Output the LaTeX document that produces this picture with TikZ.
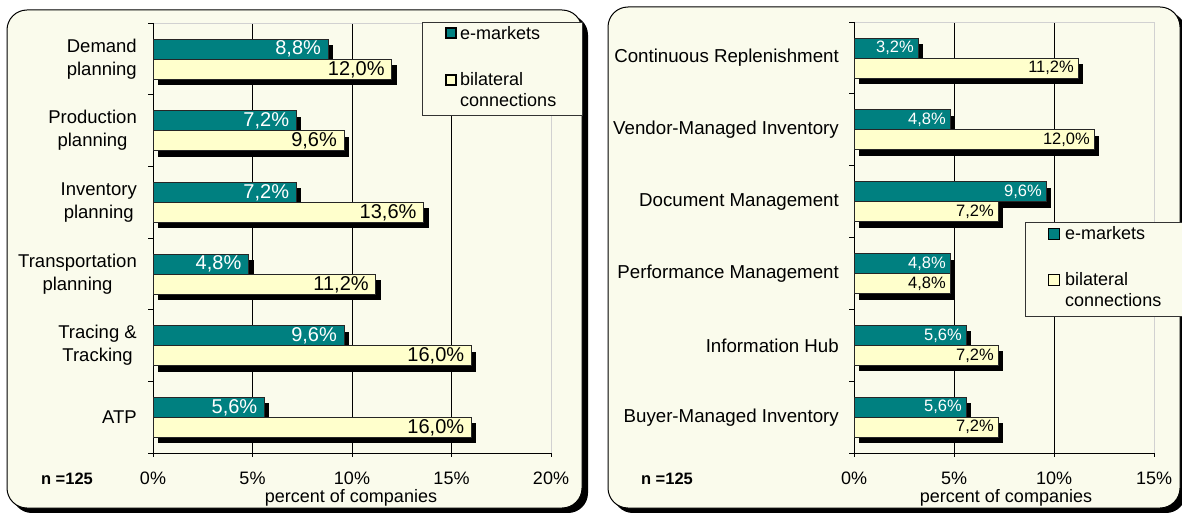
\documentclass[tikz,border=0pt]{standalone}
\usepackage{fontspec}
\setmainfont{Liberation Sans}
\definecolor{bgc}{RGB}{250,251,236}
\definecolor{tealc}{RGB}{0,128,128}
\definecolor{creamc}{RGB}{255,255,204}
\newcommand{\myfs}[2]{\fontsize{#1}{#2}\selectfont}
\begin{document}
\begin{tikzpicture}[x=1pt,y=-1pt,
  framebox/.style={draw=black, line width=1pt, fill=bgc, rounded corners=20pt},
  frameshadow/.style={fill=black, rounded corners=20pt},
  tealbar/.style={fill=tealc, draw=black!85, line width=0.9pt},
  creambar/.style={fill=creamc, draw=black!85, line width=0.9pt},
  barshadow/.style={fill=black},
  gridline/.style={draw=black, line width=0.6pt},
  gridlight/.style={draw=black!18, line width=0.8pt},
  axisline/.style={draw=black, line width=0.8pt},
  lvalw/.style={inner sep=0pt, anchor=east, text=white, font=\myfs{20}{20}},
  lvalb/.style={inner sep=0pt, anchor=east, text=black, font=\myfs{20}{20}},
  rvalw/.style={inner sep=0pt, anchor=east, text=white, font=\myfs{16.5}{16.5}},
  rvalb/.style={inner sep=0pt, anchor=east, text=black, font=\myfs{16.5}{16.5}},
  catL/.style={inner sep=0pt, anchor=east, align=center, font=\myfs{18.5}{23}},
  catR/.style={inner sep=0pt, anchor=east, font=\myfs{18.7}{18.7}},
  ticklab/.style={inner sep=0pt, font=\myfs{18}{18}},
  nlab/.style={inner sep=0pt, font=\bfseries\myfs{16.5}{16.5}},
  legendbox/.style={draw=black!80, line width=0.8pt, fill=bgc},
  legteal/.style={fill=tealc, draw=black, line width=1.4pt},
  legcream/.style={fill=creamc, draw=black, line width=1.4pt},
  legtext/.style={inner sep=0pt, anchor=west, align=left, font=\myfs{18}{21}}
]
\useasboundingbox (0,0) rectangle (1182,513);
\fill[white] (0,0) rectangle (1182,513);

% ---------------- left panel ----------------
\fill[frameshadow] (12,15) rectangle (588,513);
\draw[framebox] (7,10) rectangle (582,508);

\foreach \p in {5,10,15} \draw[gridline] ({153+\p*19.9},23) -- ({153+\p*19.9},457);
\draw[gridlight] (153,23) -- (551,23) -- (551,453);
\draw[axisline] (153,23) -- (153,453);
\draw[axisline] (148,453) -- (551,453);
\foreach \k in {0,...,6} \draw[axisline] (148,{23+\k*71.667}) -- (153,{23+\k*71.667});
\foreach \p in {0,20} \draw[axisline] ({153+\p*19.9},453) -- ({153+\p*19.9},457);

\foreach \k/\a/\b/\la/\lb/\cat in {
  0/8.8/12.0/{8,8\%}/{12,0\%}/{Demand\\planning},
  1/7.2/9.6/{7,2\%}/{9,6\%}/{Production\\planning},
  2/7.2/13.6/{7,2\%}/{13,6\%}/{Inventory\\planning},
  3/4.8/11.2/{4,8\%}/{11,2\%}/{Transportation\\planning},
  4/9.6/16.0/{9,6\%}/{16,0\%}/{Tracing \&\\Tracking},
  5/5.6/16.0/{5,6\%}/{16,0\%}/{ATP}} {
  \pgfmathsetmacro\t{23+\k*71.667}
  \pgfmathsetmacro\ea{153+\a*19.9}
  \pgfmathsetmacro\eb{153+\b*19.9}
  \fill[barshadow] (158,\t+22) rectangle (\ea+5,\t+42);
  \draw[tealbar] (153,\t+16) rectangle (\ea,\t+36);
  \fill[barshadow] (158,\t+42) rectangle (\eb+5,\t+62);
  \draw[creambar] (153,\t+36) rectangle (\eb,\t+56);
  \node[lvalw] (la\k) at (\ea-7,\t+26) {\la};
  \node[lvalb] (lb\k) at (\eb-7,\t+46.5) {\lb};
  \node[catL] (lc\k) at (137,\t+36) {\cat};
}

\foreach \p in {0,5,10,15,20} \node[ticklab] (lt\p) at ({153+\p*19.9},478) {\p\%};
\node[ticklab] (lxl) at (351,497.5) {percent of companies};
\node[nlab] (ln) at (67,479) {n =125};

\draw[legendbox] (422,22) rectangle (582,115);
\draw[legteal] (446,28) rectangle (456,38);
\draw[legcream] (446,75) rectangle (456,85);
\node[legtext] (lle) at (460,33) {e-markets};
\node[legtext] (llb) at (460,90) {bilateral\\connections};

% ---------------- right panel ----------------
\fill[frameshadow] (613,12) rectangle (1186,513);
\draw[framebox] (608,7) rectangle (1180,508);

\foreach \p in {5,10} \draw[gridline] ({854+\p*20},22) -- ({854+\p*20},457);
\draw[gridlight] (854,22) -- (1154,22) -- (1154,453);
\draw[axisline] (854,22) -- (854,453);
\draw[axisline] (849,453) -- (1154,453);
\foreach \k in {0,...,6} \draw[axisline] (849,{22+\k*71.833}) -- (854,{22+\k*71.833});
\foreach \p in {0,15} \draw[axisline] ({854+\p*20},453) -- ({854+\p*20},457);

\foreach \k/\a/\b/\la/\lb/\cat in {
  0/3.2/11.2/{3,2\%}/{11,2\%}/{Continuous Replenishment},
  1/4.8/12.0/{4,8\%}/{12,0\%}/{Vendor-Managed Inventory},
  2/9.6/7.2/{9,6\%}/{7,2\%}/{Document Management},
  3/4.8/4.8/{4,8\%}/{4,8\%}/{Performance Management},
  4/5.6/7.2/{5,6\%}/{7,2\%}/{Information Hub},
  5/5.6/7.2/{5,6\%}/{7,2\%}/{Buyer-Managed Inventory}} {
  \pgfmathsetmacro\t{22+\k*71.833}
  \pgfmathsetmacro\ea{854+\a*20}
  \pgfmathsetmacro\eb{854+\b*20}
  \fill[barshadow] (859,\t+22) rectangle (\ea+5,\t+42);
  \draw[tealbar] (854,\t+16) rectangle (\ea,\t+36);
  \fill[barshadow] (859,\t+42) rectangle (\eb+5,\t+62);
  \draw[creambar] (854,\t+36) rectangle (\eb,\t+56);
  \node[rvalw] (ra\k) at (\ea-4,\t+26) {\la};
  \node[rvalb] (rb\k) at (\eb-4,\t+46) {\lb};
  \node[catR] (rc\k) at (839,\t+36) {\cat};
}

\foreach \p in {0,5,10,15} \node[ticklab] (rt\p) at ({854+\p*20},478) {\p\%};
\node[ticklab] (rxl) at (1006,497.5) {percent of companies};
\node[nlab] (rn) at (667,479) {n =125};

\draw[legendbox] (1025,222) rectangle (1195,316);
\draw[legteal] (1048.5,228.5) rectangle (1059.5,239.5);
\draw[legcream] (1048.5,274.5) rectangle (1059.5,285.5);
\node[legtext] (rle) at (1065,233.5) {e-markets};
\node[legtext] (rlb) at (1065,290) {bilateral\\connections};
\end{tikzpicture}
\end{document}
